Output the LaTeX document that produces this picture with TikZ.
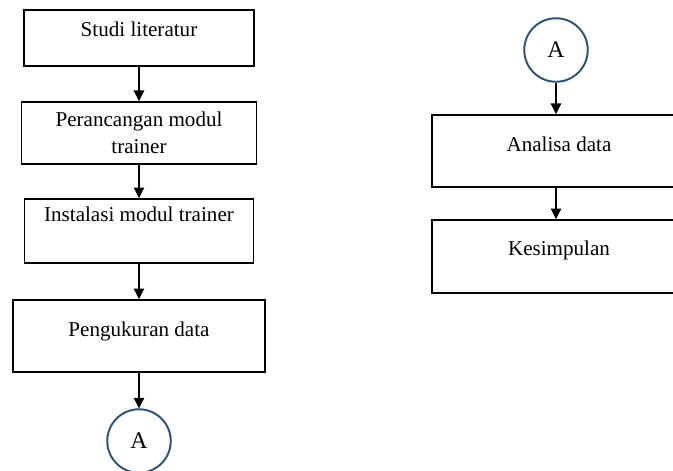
\documentclass[tikz,border=0pt]{standalone}
\usepackage{fontspec}
\setmainfont{Liberation Serif}
\usetikzlibrary{arrows.meta}
\definecolor{circleblue}{RGB}{47,82,115}

\begin{document}
\begin{tikzpicture}[
    stepbox/.style={draw, line width=1.1pt, inner sep=0pt, align=center,
                    font=\fontsize{12}{15.2}\selectfont},
    lift/.style={text height=8pt, text depth=#1},
    joint/.style={draw=circleblue, circle, line width=1.1pt, inner sep=0pt,
                  minimum size=1.27cm, font=\fontsize{13.5}{15}\selectfont},
    arr/.style={-{Triangle[length=6pt, width=6pt]}, line width=0.6pt}
]
\useasboundingbox (0,0) rectangle (13.46,-9.40);
\clip (0,0) rectangle (13.46,-9.40);

% left column
\node[stepbox, lift=9.4pt, minimum width=4.6cm, minimum height=1.12cm] (studi) at (2.78,-0.76) {Studi literatur};
\node[stepbox, minimum width=4.7cm, minimum height=1.24cm] (rancang) at (2.78,-2.66) {Perancangan modul\\trainer};
\node[stepbox, lift=18.5pt, minimum width=4.58cm, minimum height=1.28cm] (instal) at (2.78,-4.62) {Instalasi modul trainer};
\node[stepbox, lift=7.9pt, minimum width=5.04cm, minimum height=1.44cm] (ukur) at (2.78,-6.72) {Pengukuran data};
\node[joint] (keluar) at (2.78,-8.82) {A};
\draw[arr] (studi) -- (rancang);
\draw[arr] (rancang) -- (instal);
\draw[arr] (instal) -- (ukur);
\draw[arr] (ukur) -- (keluar);

% right column
\node[joint] (masuk) at (11.12,-1.00) {A};
\node[stepbox, lift=7.2pt, minimum width=5.08cm, minimum height=1.44cm] (analisa) at (11.18,-3.02) {Analisa data};
\node[stepbox, lift=9.6pt, minimum width=5.08cm, minimum height=1.46cm] (simpul) at (11.18,-5.13) {Kesimpulan};
\draw[arr] (masuk) -- (masuk |- analisa.north);
\draw[arr] (masuk |- analisa.south) -- (masuk |- simpul.north);
\end{tikzpicture}
\end{document}
